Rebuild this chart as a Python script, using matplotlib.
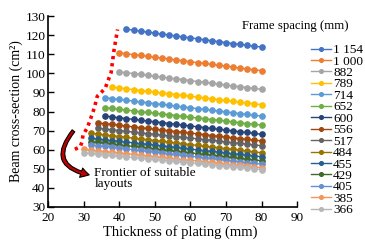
import matplotlib
matplotlib.use("Agg")
import matplotlib.pyplot as plt
from matplotlib.patches import FancyArrowPatch

plt.rcParams['font.family'] = ['Liberation Serif', 'DejaVu Serif']

# plate thickness grid (mm), every series ends at 80
thick = [30, 32, 34, 36, 38, 40, 42, 44, 46, 48, 50, 52, 54, 56, 58,
         60, 62, 64, 66, 68, 70, 72, 74, 76, 78, 80]

labels = ["1 154", "1 000", "882", "789", "714", "652", "600", "556",
          "517", "484", "455", "429", "405", "385", "366"]

colors = ["#4472C4", "#ED7D31", "#A5A5A5", "#FFC000", "#5B9BD5", "#70AD47",
          "#264478", "#9E480E", "#636363", "#997300", "#255E91", "#43682B",
          "#698ED0", "#F1975A", "#B7B7B7"]

s1154 = [123.2, 122.6, 122.1, 121.6, 121.1, 120.6, 120.1, 119.6, 119.1, 118.6,
         118.1, 117.6, 117.1, 116.6, 116.1, 115.6, 115.2, 114.7, 114.2, 113.8]
s1000 = [110.8, 110.3, 109.8, 109.4, 108.9, 108.4, 108.0, 107.5, 107.0, 106.6,
         106.1, 105.6, 105.2, 104.7, 104.2, 103.8, 103.3, 102.8, 102.3, 101.9, 101.4]
s882 = [100.8, 100.3, 99.9, 99.4, 99.0, 98.5, 98.0, 97.6, 97.1, 96.7,
        96.2, 95.7, 95.3, 94.8, 94.4, 93.9, 93.4, 93.0, 92.5, 92.1, 91.6]
s789 = [92.8, 92.4, 91.9, 91.5, 91.0, 90.6, 90.2, 89.7, 89.3, 88.9, 88.4,
        88.0, 87.5, 87.1, 86.7, 86.2, 85.8, 85.3, 84.9, 84.5, 84.0, 83.6]
s714 = [87.2, 86.8, 86.3, 85.9, 85.5, 85.0, 84.6, 84.1, 83.7, 83.3, 82.8, 82.4,
        82.0, 81.5, 81.1, 80.7, 80.2, 79.8, 79.3, 78.9, 78.5, 78.0, 77.6]
s652 = [82.0, 81.6, 81.2, 80.8, 80.3, 79.9, 79.5, 79.1, 78.7, 78.3, 77.9, 77.5,
        77.0, 76.6, 76.2, 75.8, 75.4, 75.0, 74.6, 74.1, 73.7, 73.3, 72.9]
s600 = [77.6, 77.2, 76.7, 76.3, 75.9, 75.4, 75.0, 74.6, 74.2, 73.7, 73.3, 72.9,
        72.4, 72.0, 71.6, 71.1, 70.7, 70.3, 69.8, 69.4, 69.0, 68.5, 68.1]
s556 = [74.0, 73.6, 73.2, 72.8, 72.4, 71.9, 71.5, 71.1, 70.7, 70.3, 69.9, 69.5,
        69.1, 68.7, 68.3, 67.9, 67.4, 67.0, 66.6, 66.2, 65.8, 65.4, 65.0, 64.6]
s517 = [71.2, 70.8, 70.4, 70.0, 69.6, 69.2, 68.8, 68.4, 68.0, 67.6, 67.2, 66.8,
        66.5, 66.1, 65.7, 65.3, 64.9, 64.5, 64.1, 63.7, 63.3, 62.9, 62.5, 62.1]
s484 = [68.6, 68.2, 67.7, 67.3, 66.9, 66.5, 66.0, 65.6, 65.2, 64.8, 64.4, 63.9, 63.5,
        63.1, 62.7, 62.2, 61.8, 61.4, 61.0, 60.5, 60.1, 59.7, 59.3, 58.8, 58.4]
s455 = [66.0, 65.6, 65.2, 64.8, 64.4, 64.0, 63.6, 63.2, 62.8, 62.4, 62.0, 61.6, 61.2,
        60.8, 60.3, 59.9, 59.5, 59.1, 58.7, 58.3, 57.9, 57.5, 57.1, 56.7, 56.3]
s429 = [64.2, 63.8, 63.4, 63.0, 62.5, 62.1, 61.7, 61.3, 60.9, 60.5, 60.0, 59.6, 59.2,
        58.8, 58.4, 57.9, 57.5, 57.1, 56.7, 56.3, 55.9, 55.4, 55.0, 54.6, 54.2]
s405 = [62.5, 62.1, 61.7, 61.2, 60.8, 60.4, 60.0, 59.6, 59.1, 58.7, 58.3, 57.9, 57.5,
        57.0, 56.6, 56.2, 55.8, 55.4, 54.9, 54.5, 54.1, 53.7, 53.2, 52.8, 52.4]
s385 = [60.2, 59.8, 59.4, 59.0, 58.7, 58.3, 57.9, 57.5, 57.1, 56.7, 56.4, 56.0, 55.6,
        55.2, 54.8, 54.4, 54.1, 53.7, 53.3, 52.9, 52.5, 52.1, 51.8, 51.4, 51.0, 50.6]
s366 = [58.4, 58.0, 57.7, 57.3, 57.0, 56.6, 56.3, 55.9, 55.6, 55.2, 54.9, 54.5, 54.2,
        53.8, 53.5, 53.1, 52.8, 52.4, 52.1, 51.7, 51.4, 51.0, 50.7, 50.3, 50.0, 49.6]

series = [s1154, s1000, s882, s789, s714, s652, s600, s556,
          s517, s484, s455, s429, s405, s385, s366]

# frontier of suitable layouts (red dotted)
front_x = [27.5, 29.0, 29.5, 29.8, 31.0, 31.7, 33.0, 33.8, 36.0, 37.7, 38.5, 39.5]
front_y = [60.2, 61.5, 64.0, 67.7, 71.5, 75.0, 82.0, 88.0, 92.0, 100.5, 112.0, 123.0]

fig = plt.figure(figsize=(3.65, 2.44), dpi=100)
ax = fig.add_axes([0.132, 0.152, 0.682, 0.782])

for y, lab, c in zip(series, labels, colors):
    x = thick[-len(y):]
    ax.plot(x, y, color=c, linewidth=1.0, marker='o', markersize=3.8, label=lab)

ax.plot(front_x, front_y, color='#FF0000', linewidth=2.6, linestyle=(0, (0.9, 1.1)))

arr = FancyArrowPatch((27.6, 71.0), (32.3, 46.5), connectionstyle="arc3,rad=0.85",
                      arrowstyle="simple,head_width=7,head_length=6,tail_width=2.4",
                      facecolor='#C00000', edgecolor='black', linewidth=0.8)
ax.add_patch(arr)
ax.text(33.0, 51.0, "Frontier of suitable\nlayouts", fontsize=9.5, va='top',
        ha='left', linespacing=0.95)

ax.set_xlim(20, 90)
ax.set_ylim(30, 130)
ax.set_xticks(range(20, 91, 10))
ax.set_yticks(range(30, 131, 10))
for s in ['top', 'right']:
    ax.spines[s].set_visible(False)
for s in ['left', 'bottom']:
    ax.spines[s].set_linewidth(1.2)
ax.tick_params(direction='in', length=4, width=1.0, labelsize=9.5)
ax.tick_params(axis='x', pad=4)
ax.tick_params(axis='y', pad=2)
ax.set_xlabel("Thickness of plating (mm)", fontsize=10.5)
ax.xaxis.set_label_coords(0.53, -0.095)
ax.set_ylabel("Beam cross-section (cm²)", fontsize=10, labelpad=2)

fig.text(0.663, 0.893, "Frame spacing (mm)", fontsize=9.2, va='center', ha='left')
ax.legend(loc='upper left', bbox_to_anchor=(0.853, 0.82), bbox_transform=fig.transFigure,
          frameon=False, fontsize=9.5, labelspacing=-0.06, handlelength=1.5,
          handletextpad=0.15, borderpad=0, borderaxespad=0, markerscale=0.7)

fig.savefig("out.png", dpi=100)
